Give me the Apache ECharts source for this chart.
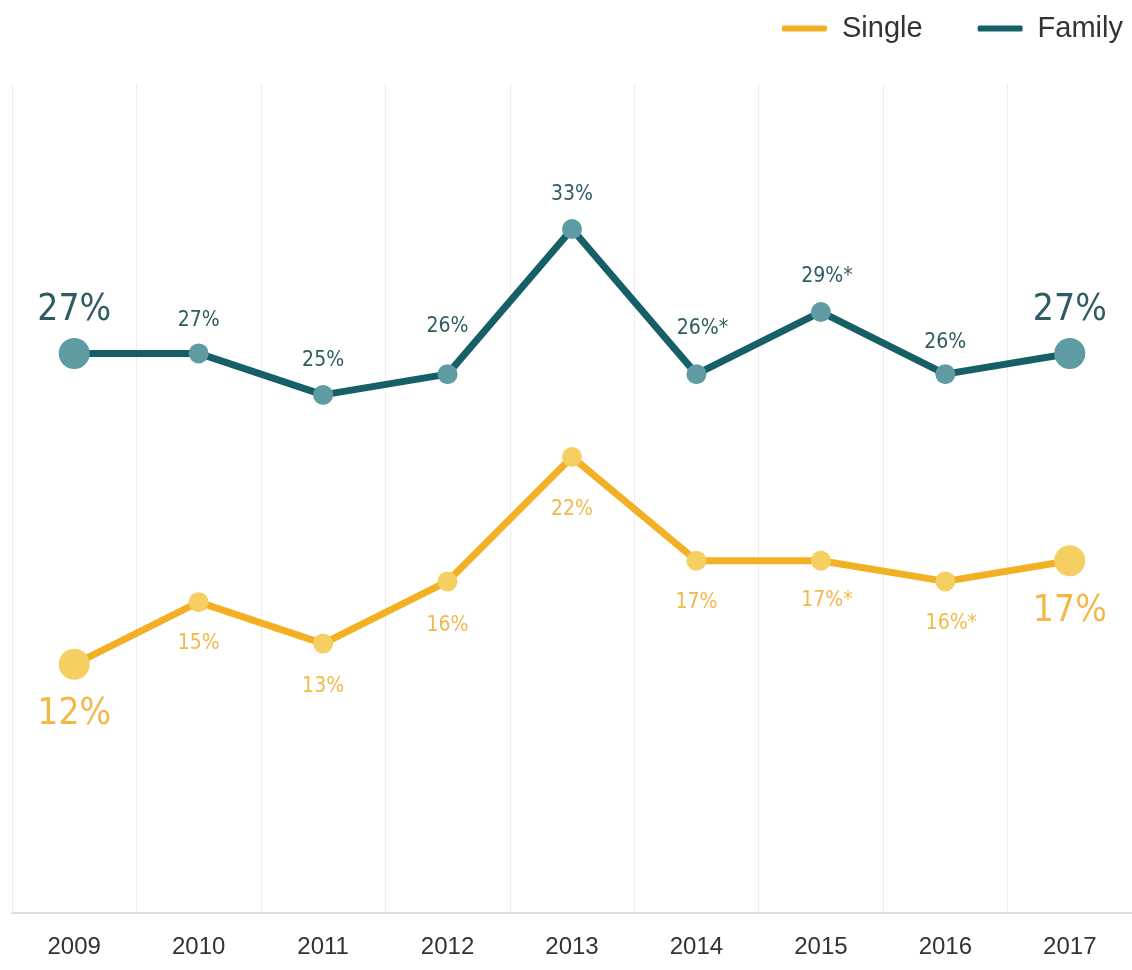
<!DOCTYPE html>
<html>
<head>
<meta charset="utf-8">
<script src="https://cdn.jsdelivr.net/npm/echarts@6/dist/echarts.min.js"></script>
<style>html,body{margin:0;padding:0;background:#fff;}#chart{width:1132px;height:970px;}</style>
</head>
<body>
<div id="chart"></div>
<script>
const years = ['2009','2010','2011','2012','2013','2014','2015','2016','2017'];
const singleValues = [12,15,13,16,22,17,17,16,17];
const familyValues = [27,27,25,26,33,26,29,26,27];
const singleLabels = ['12%','15%','13%','16%','22%','17%','17%*','16%*','17%'];
const familyLabels = ['27%','27%','25%','26%','33%','26%*','29%*','26%','27%'];
// label vertical offsets (px) from point centre
const singleLabelDy = [50,41,43,44,52,42,40,42,51];
const familyLabelDy = [-43,-33,-34,-48,-35,-46,-35,-32,-43];

const condensed = "'Liberation Sans Narrow','DejaVu Sans Condensed','Liberation Sans',sans-serif";

function buildData(values, labels, dys, markerColor, textColor) {
  return values.map((v, i) => {
    const isEnd = (i === 0 || i === values.length - 1);
    const hasStar = labels[i].indexOf('*') >= 0;
    return {
      value: v,
      symbolSize: isEnd ? 31 : 20,
      itemStyle: { color: markerColor },
      label: {
        show: true,
        position: 'inside',
        offset: [hasStar ? 6 : 0, dys[i]],
        formatter: labels[i],
        fontFamily: condensed,
        fontSize: isEnd ? 37 : 21,
        color: textColor
      }
    };
  });
}

const chart = echarts.init(document.getElementById('chart'));
chart.setOption({
  animation: false,
  backgroundColor: '#ffffff',
  legend: {
    right: 4,
    top: 9,
    itemWidth: 45,
    itemHeight: 6,
    itemGap: 55,
    icon: 'roundRect',
    textStyle: { fontSize: 29, color: '#333', fontFamily: "'Liberation Sans',sans-serif", padding: [0,0,0,10] },
    data: ['Single','Family']
  },
  grid: { left: 12, right: -2, top: 84, bottom: 57 },
  xAxis: {
    type: 'category',
    data: years,
    boundaryGap: true,
    axisLine: { show: true, lineStyle: { color: '#dcdcdc', width: 2 } },
    axisTick: { show: false },
    axisLabel: { margin: 22, fontSize: 24, color: '#333', fontFamily: "'Liberation Sans',sans-serif" },
    splitLine: { show: true, lineStyle: { color: '#ececec', width: 1 } }
  },
  yAxis: {
    type: 'value',
    min: 0, max: 40,
    show: false,
    splitLine: { show: false }
  },
  series: [
    {
      name: 'Single',
      type: 'line',
      symbol: 'circle',
      color: '#f2b124',
      lineStyle: { color: '#f2b124', width: 7 },
      data: buildData(singleValues, singleLabels, singleLabelDy, '#f6cf63', '#f2b848')
    },
    {
      name: 'Family',
      type: 'line',
      symbol: 'circle',
      color: '#165f66',
      lineStyle: { color: '#165f66', width: 7 },
      data: buildData(familyValues, familyLabels, familyLabelDy, '#5f9ba3', '#2d5c62')
    }
  ]
});
</script>
</body>
</html>
